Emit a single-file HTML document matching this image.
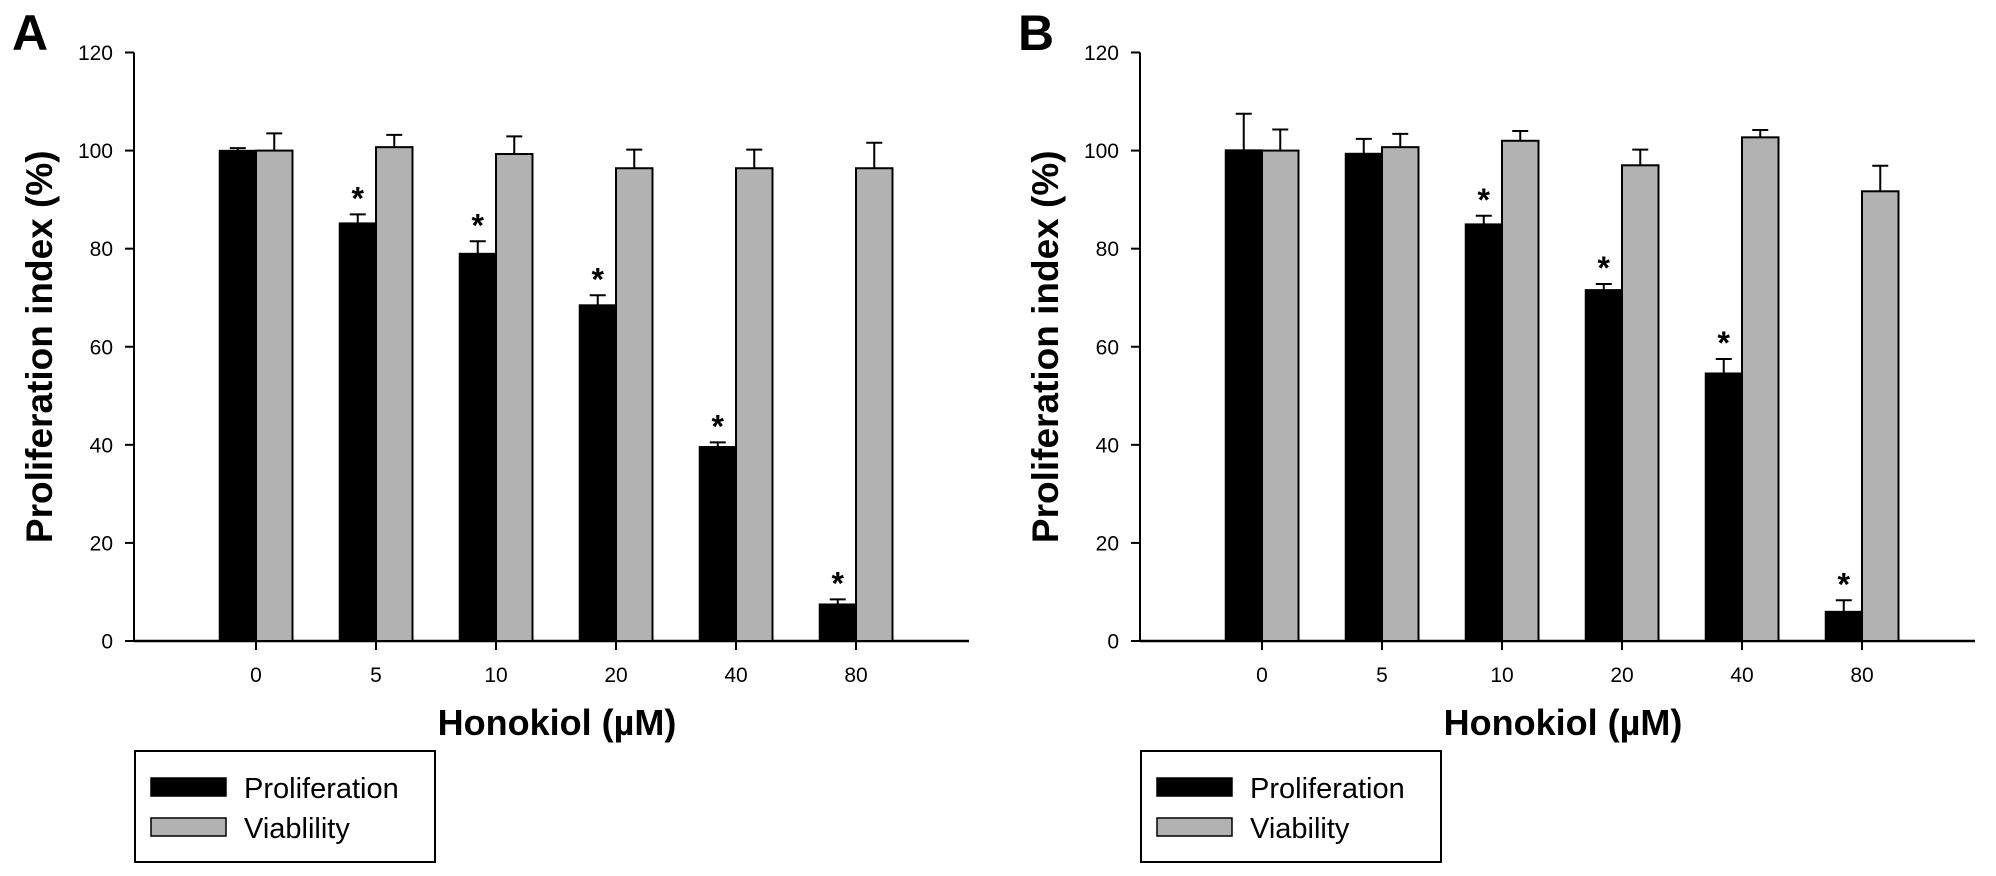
<!DOCTYPE html>
<html><head><meta charset="utf-8"><style>
html,body{margin:0;padding:0;background:#fff;}
svg{display:block;font-family:"Liberation Sans",Arial,sans-serif;}
</style></head><body>
<svg id="fig" width="1996" height="876" viewBox="0 0 1996 876" xmlns="http://www.w3.org/2000/svg"></svg>
<script>
const categories = ["0","5","10","20","40","80"];
const yTicks = [0,20,40,60,80,100,120];
const profA = [100,85.2,79.0,68.5,39.6,7.5];
const profAErr = [0.5,1.8,2.5,2.0,0.9,1.0];
const viabA = [100,100.7,99.3,96.4,96.4,96.4];
const viabAErr = [3.5,2.5,3.6,3.8,3.8,5.2];
const starsA = [false,true,true,true,true,true];
const profB = [100.1,99.4,85.0,71.6,54.6,6.0];
const profBErr = [7.4,3.0,1.7,1.2,2.9,2.3];
const viabB = [100,100.7,102,97,102.7,91.7];
const viabBErr = [4.3,2.7,2.0,3.2,1.5,5.2];
const starsB = [false,false,true,true,true,true];

const NS="http://www.w3.org/2000/svg";
const svg=document.getElementById('fig');
function mk(tag,attrs,parent){const e=document.createElementNS(NS,tag);for(const k in attrs)e.setAttribute(k,attrs[k]);(parent||svg).appendChild(e);return e;}

function panel(ox,letter,prof,profErr,viab,viabErr,stars,viabLabel,id){
  const g=mk('g',{});
  
  
  const axX=ox, axEnd=ox+835, y0=641, y120=52.5;
  const yS=v=>y0-(v/120)*(y0-y120);
  const xS=i=>ox+122+i*120;
  const bw=36.5;
  const L=mk('text',{x:ox-122,y:50,'font-size':50,'font-weight':'bold'},g);L.textContent=letter;
  
  const ya=mk('line',{x1:axX,y1:y0,x2:axX,y2:y120,stroke:'#000','stroke-width':2},g);
  
  const xa=mk('line',{x1:axX,y1:y0,x2:axEnd,y2:y0,stroke:'#000','stroke-width':2.5},g);
  
  yTicks.forEach(t=>{
    mk('line',{x1:axX-9,y1:yS(t),x2:axX,y2:yS(t),stroke:'#000','stroke-width':2},g);
    const tx=mk('text',{x:axX-21,y:yS(t)+7.5,'font-size':21,'text-anchor':'end'},g);tx.textContent=t;
    
  });
  categories.forEach((c,i)=>{
    const cx=xS(i);
    mk('line',{x1:cx,y1:y0,x2:cx,y2:y0+9,stroke:'#000','stroke-width':2},g);
    const tx=mk('text',{x:cx,y:y0+41,'font-size':21,'text-anchor':'middle'},g);tx.textContent=c;
    
    const ep=mk('path',{d:`M${cx-bw/2} ${yS(prof[i])}V${yS(prof[i]+profErr[i])}M${cx-bw/2-8} ${yS(prof[i]+profErr[i])}h16`,stroke:'#000','stroke-width':2,fill:'none'},g);
    
    const ev=mk('path',{d:`M${cx+bw/2} ${yS(viab[i])}V${yS(viab[i]+viabErr[i])}M${cx+bw/2-8} ${yS(viab[i]+viabErr[i])}h16`,stroke:'#000','stroke-width':2,fill:'none'},g);
    
    const bp=mk('rect',{x:cx-bw,y:yS(prof[i]),width:bw,height:y0-yS(prof[i]),fill:'#000',stroke:'#000','stroke-width':1.5},g);
    
    const bv=mk('rect',{x:cx,y:yS(viab[i]),width:bw,height:y0-yS(viab[i]),fill:'#b2b2b2',stroke:'#000','stroke-width':2},g);
    
    if(stars[i]){
      const s=mk('text',{x:cx-bw/2,y:yS(prof[i]+profErr[i])-5,'font-size':32,'font-weight':'bold','text-anchor':'middle'},g);s.textContent='*';
      
    }
  });
  const yt=mk('text',{x:0,y:0,'font-size':37,'font-weight':'bold','text-anchor':'middle',transform:`translate(${ox-82},${yS(60)}) rotate(-90)`},g);
  yt.textContent='Proliferation index (%)';
  
  const xt=mk('text',{x:ox+423,y:735,'font-size':36,'font-weight':'bold','text-anchor':'middle'},g);
  xt.textContent='Honokiol (\u00b5M)';
  
  const lg=mk('g',{},g);
  
  mk('rect',{x:ox+1,y:751,width:300,height:111,fill:'#fff',stroke:'#000','stroke-width':2},lg);
  [['Proliferation','#000'],[viabLabel,'#b2b2b2']].forEach((e,k)=>{
    const yy=787+k*40;
    const sw=mk('rect',{x:ox+17,y:yy-9,width:75,height:18,fill:e[1],stroke:'#000','stroke-width':1.5},lg);
    
    const t=mk('text',{x:ox+110,y:yy+11,'font-size':29},lg);t.textContent=e[0];
    
  });
}
panel(134,'A',profA,profAErr,viabA,viabAErr,starsA,'Viablility','a');
panel(1140,'B',profB,profBErr,viabB,viabBErr,starsB,'Viability','b');
</script>
</body></html>
